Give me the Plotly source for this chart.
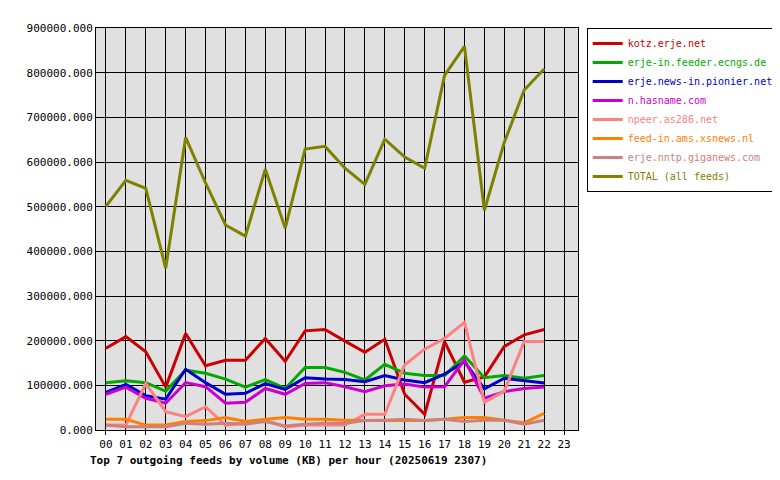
import plotly.graph_objects as go

hours = [f"{h:02d}" for h in range(24)]

kotz = [183, 209, 175, 96, 216, 144, 156, 156, 205, 154, 222, 225, 199, 174, 203, 80, 35, 198, 107, 119, 187, 213, 225]
feeder = [106, 110, 106, 87, 134, 127, 114, 96, 113, 93, 140, 140, 129, 112, 147, 127, 122, 122, 166, 117, 122, 116, 122]
pionier = [84, 102, 77, 69, 136, 106, 80, 82, 104, 91, 117, 114, 113, 108, 122, 112, 106, 125, 153, 92, 116, 110, 105]
hasname = [80, 96, 71, 60, 106, 97, 60, 62, 93, 80, 104, 106, 97, 86, 99, 103, 96, 97, 157, 71, 86, 93, 96]
npeer = [11, 11, 104, 41, 30, 52, 11, 15, 22, 7, 11, 11, 11, 35, 35, 146, 181, 205, 241, 62, 87, 198, 198]
xsnews = [24, 24, 11, 11, 19, 21, 28, 19, 24, 28, 24, 24, 22, 21, 22, 22, 21, 24, 28, 28, 22, 16, 37]
giganews = [11, 7, 7, 7, 15, 13, 15, 13, 19, 9, 13, 15, 15, 21, 21, 24, 21, 24, 19, 22, 22, 13, 22]
total = [501, 559, 541, 362, 655, 553, 459, 434, 584, 452, 629, 635, 586, 550, 651, 611, 586, 794, 859, 492, 644, 761, 808]

series = [
    ("kotz.erje.net", kotz, "#cc0000"),
    ("erje-in.feeder.ecngs.de", feeder, "#00aa00"),
    ("erje.news-in.pionier.net.pl", pionier, "#0000cc"),
    ("n.hasname.com", hasname, "#cc00cc"),
    ("npeer.as286.net", npeer, "#ff8080"),
    ("feed-in.ams.xsnews.nl", xsnews, "#ff8000"),
    ("erje.nntp.giganews.com", giganews, "#cc8080"),
    ("TOTAL (all feeds)", total, "#808000"),
]

fig = go.Figure()
for name, vals, col in series:
    fig.add_trace(go.Scatter(
        x=list(range(len(vals))), y=[v * 1000 for v in vals],
        name=f'<span style="color:{col}">{name}</span>',
        mode="lines", line=dict(color=col, width=3),
    ))

mono = "DejaVu Sans Mono"
fig.update_layout(
    width=780, height=480,
    margin=dict(l=88, r=210, t=20, b=58, autoexpand=False),
    paper_bgcolor="white", plot_bgcolor="#e0e0e0",
    font=dict(family=mono, size=11, color="black"),
    showlegend=True,
    legend=dict(x=1.018, y=1.0, xanchor="left", yanchor="top",
                bordercolor="black", borderwidth=1, bgcolor="white",
                font=dict(size=10), tracegroupgap=0, itemwidth=30,
                entrywidth=0),
    title=dict(text="<b>Top 7 outgoing feeds by volume (KB) per hour (20250619 2307)</b>",
               x=82 / 780, xanchor="left", y=1 - 452 / 480, yanchor="middle",
               font=dict(family=mono, size=11)),
)
fig.update_xaxes(range=[-0.5, 23.7], tickvals=list(range(24)), ticktext=hours,
                 showgrid=True, gridcolor="black", gridwidth=1,
                 ticks="outside", ticklen=4, tickcolor="black",
                 showline=True, linecolor="black", mirror=True, zeroline=False)
fig.update_yaxes(range=[0, 900000], tickvals=list(range(0, 900001, 100000)),
                 ticktext=[f"{v}.000" for v in range(0, 900001, 100000)],
                 showgrid=True, gridcolor="black", gridwidth=1,
                 showline=True, linecolor="black", mirror=True, zeroline=False)

fig.write_html("out.html")
